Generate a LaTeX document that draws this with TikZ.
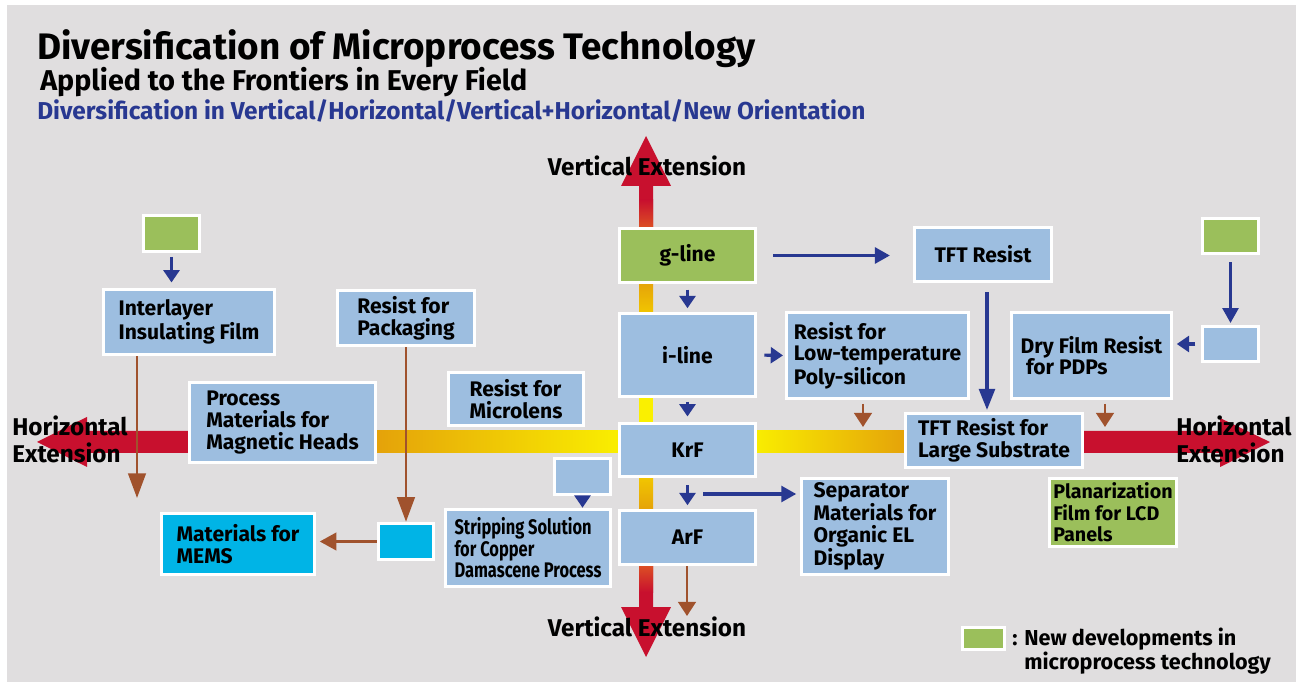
\documentclass[tikz,border=0pt]{standalone}
\usepackage{fontspec}
\setmainfont{Fira Sans}
\newfontfamily\narrowfont[FakeStretch=0.78]{Fira Sans}
\usetikzlibrary{arrows.meta}

\definecolor{bggray}{RGB}{224,222,223}
\definecolor{boxblue}{RGB}{157,190,224}
\definecolor{newgreen}{RGB}{155,191,91}
\definecolor{memscyan}{RGB}{0,180,230}
\definecolor{navy}{RGB}{40,56,145}
\definecolor{rust}{RGB}{160,82,45}
\definecolor{extred}{RGB}{200,16,46}
\definecolor{redorange}{RGB}{222,85,35}
\definecolor{extorange}{RGB}{228,160,10}
\definecolor{extyellow}{RGB}{250,240,0}
\definecolor{midyellow}{RGB}{242,200,0}

\tikzset{
  box/.style={draw=white, line width=2pt, fill=boxblue, inner sep=0pt, align=left,
    font=\bfseries\fontsize{12}{12.3}\selectfont},
  newbox/.style={box, fill=newgreen},
  memsbox/.style={box, fill=memscyan},
  navyarr/.style={draw=navy, line width=1.8pt, -{Triangle[length=#1, width=9pt]}},
  navyarr/.default=7pt,
  rustarr/.style={draw=rust, line width=1.5pt, -{Triangle[length=#1, width=10pt]}},
  rustarr/.default=8pt,
  extext/.style={inner sep=0pt, font=\bfseries\fontsize{13.8}{15.5}\selectfont},
}

\begin{document}
\begin{tikzpicture}[x=0.02cm, y=-0.02cm]
        \useasboundingbox (0,0) rectangle (1296,682);
        \fill[bggray] (7,5) rectangle (1296,682);

        % extension bars
        \fill[extred] (37,442) -- (87,417) -- (87,431) -- (200,431) -- (200,453) -- (87,453) -- (87,467) -- cycle;
        \shade[left color=extorange, right color=extyellow] (370,431) rectangle (625,453);
        \shade[left color=extyellow, right color=extorange] (750,431) rectangle (910,453);
        \fill[extred] (1270,442) -- (1220,418) -- (1220,431) -- (1078,431) -- (1078,453) -- (1220,453) -- (1220,467) -- cycle;
        \fill[extred] (646,136) -- (671,186) -- (653,186) -- (653,230) -- (639,230) -- (639,186) -- (621,186) -- cycle;
        \shade[top color=extred, bottom color=redorange] (639,200) rectangle (653,230);
        \shade[top color=extorange, bottom color=midyellow] (639,280) rectangle (653,315);
        \fill[extyellow] (639,395) rectangle (653,425);
        \shade[top color=midyellow, bottom color=extorange] (639,475) rectangle (653,512);
        \fill[extred] (639,563) -- (653,563) -- (653,607) -- (671,607) -- (646,657) -- (621,607) -- (639,607) -- cycle;
        \shade[top color=redorange, bottom color=extred] (639,563) rectangle (653,592);

        % centre column
        \node[newbox, minimum width=2.72cm, minimum height=1.08cm] (gline) at (687.5,255.5) {g-line};
        \node[box, minimum width=2.72cm, minimum height=1.66cm] (iline) at (687.5,355) {i-line};
        \node[box, minimum width=2.72cm, minimum height=1.06cm] (krf) at (687.5,450) {KrF};
        \node[box, minimum width=2.72cm, minimum height=1.08cm] (arf) at (687.5,537.5) {ArF};

        % left side
        \node[newbox, minimum width=1.12cm, minimum height=0.72cm] (newleft) at (171.5,233.5) {};
        \node[box, minimum width=3.42cm, minimum height=1.30cm] (interlayer) at (189,322) {Interlayer\\Insulating Film};
        \node[box, minimum width=2.74cm, minimum height=1.10cm] (packaging) at (406,318) {Resist for\\Packaging};
        \node[box, minimum width=3.72cm, minimum height=1.60cm] (magnetic) at (282.5,422.5) {Process\\Materials for\\Magnetic Heads};
        \node[box, minimum width=2.70cm, minimum height=1.06cm] (microlens) at (516,399) {Resist for\\Microlens};
        \node[memsbox, minimum width=1.10cm, minimum height=0.72cm] (memsdot) at (406,541.5) {};
        \node[memsbox, minimum width=3.06cm, minimum height=1.22cm] (mems) at (238,544) {Materials for\\MEMS};
        \node[box, minimum width=1.12cm, minimum height=0.72cm] (stripdot) at (582.5,476.5) {};
        \node[box, minimum width=3.30cm, minimum height=1.54cm, font=\bfseries\narrowfont\fontsize{12}{12.3}\selectfont] (stripping) at (528,548) {Stripping Solution\\for Copper\\Damascene Process};

        % right side
        \node[box, minimum width=2.74cm, minimum height=1.08cm] (tftresist) at (983,254.5) {TFT Resist};
        \node[box, minimum width=3.64cm, minimum height=1.72cm] (lowtemp) at (877.5,355.5) {Resist for\\Low-temperature\\Poly-silicon};
        \node[box, minimum width=3.20cm, minimum height=1.72cm] (dryfilm) at (1091.5,355.5) {Dry Film Resist\\\hspace*{0.25em}for PDPs};
        \node[newbox, minimum width=1.12cm, minimum height=0.70cm] (newright) at (1230.5,236) {};
        \node[box, minimum width=1.12cm, minimum height=0.70cm] (drydot) at (1230.5,344) {};
        \node[box, minimum width=3.54cm, minimum height=1.08cm] (largesub) at (994,440.5) {TFT Resist for\\Large Substrate};
        \node[box, minimum width=2.94cm, minimum height=1.92cm] (separator) at (875,526.5) {Separator\\Materials for\\Organic EL\\Display};
        \node[newbox, minimum width=2.54cm, minimum height=1.36cm, font=\bfseries\fontsize{11.2}{12.3}\selectfont] (planar) at (1113,512.5) {Planarization\\Film for LCD\\Panels};

        % connectors
        \coordinate (sepfrom) at (703,494);
        \coordinate (interend) at (137,498);
        \coordinate (arfend) at (687,616);
        \coordinate (lowend) at (863,427);
        \coordinate (dryend) at (1105,427);

        \draw[navyarr, shorten <=2pt, shorten >=3pt] (newleft.south) -- (newleft.south |- interlayer.north);
        \draw[navyarr, shorten <=3pt, shorten >=2pt] (gline.south) -- (iline.north);
        \draw[navyarr, shorten <=2pt, shorten >=3pt] (iline.south) -- (krf.north);
        \draw[navyarr, shorten <=4pt, shorten >=2pt] (krf.south) -- (arf.north);
        \draw[navyarr=8.5pt, shorten >=2pt] (sepfrom) -- (sepfrom -| separator.west);
        \draw[navyarr=8.5pt, shorten <=9pt, shorten >=13pt] (gline.east) -- (gline.east -| tftresist.west);
        \draw[navyarr=12pt, shorten <=5pt, shorten >=1pt] ([xshift=0.08cm]tftresist.south) -- ([xshift=0.08cm]tftresist.south |- largesub.north);
        \draw[navyarr, shorten <=4pt, shorten >=1pt] (iline.east) -- (lowtemp.west);
        \draw[navyarr, shorten <=3pt, shorten >=2pt] (drydot.west) -- (drydot.west -| dryfilm.east);
        \draw[navyarr=8.5pt, shorten <=4pt, shorten >=1pt] (newright.south) -- (drydot.north);
        \draw[navyarr] (stripdot.south) -- (stripdot.south |- stripping.north);

        \draw[rustarr=14pt] (interlayer.south -| interend) -- (interend);
        \draw[rustarr=14pt] (packaging.south) -- (memsdot.north);
        \draw[rustarr=9.5pt, shorten >=2pt] (memsdot.west) -- (memsdot.west -| mems.east);
        \draw[rustarr] (arf.south -| arfend) -- (arfend);
        \draw[rustarr, shorten <=2pt] (lowtemp.south -| lowend) -- (lowend);
        \draw[rustarr, shorten <=2pt] (dryfilm.south -| dryend) -- (dryend);

        % texts
        \node[anchor=base west, inner sep=0pt, font=\bfseries\fontsize{21}{24}\selectfont] (title) at (37,60) {Diversification of Microprocess Technology};
        \node[anchor=base west, inner sep=0pt, font=\bfseries\fontsize{16.3}{19}\selectfont] (subtitle) at (40,91) {Applied to the Frontiers in Every Field};
        \node[anchor=base west, inner sep=0pt, text=navy, font=\bfseries\fontsize{13.9}{16}\selectfont] (theme) at (37,120) {Diversification in Vertical/Horizontal/Vertical+Horizontal/New Orientation};
        \node[extext, anchor=base] (vtop) at (647,176) {Vertical Extension};
        \node[extext, anchor=base] (vbot) at (647,636) {Vertical Extension};
        \node[extext, anchor=west, align=left] (hleft) at (12,439) {Horizontal\\Extension};
        \node[extext, anchor=west, align=left] (hright) at (1176,439) {Horizontal\\Extension};

        % legend
        \node[newbox, minimum width=0.84cm, minimum height=0.44cm] (legendbox) at (983.5,638.5) {};
        \node[anchor=north west, align=left, inner sep=0pt, font=\bfseries\fontsize{12.3}{12.6}\selectfont] (legendtext) at (1012,628) {: New developments in\\\phantom{: }microprocess technology};
\end{tikzpicture}
\end{document}
